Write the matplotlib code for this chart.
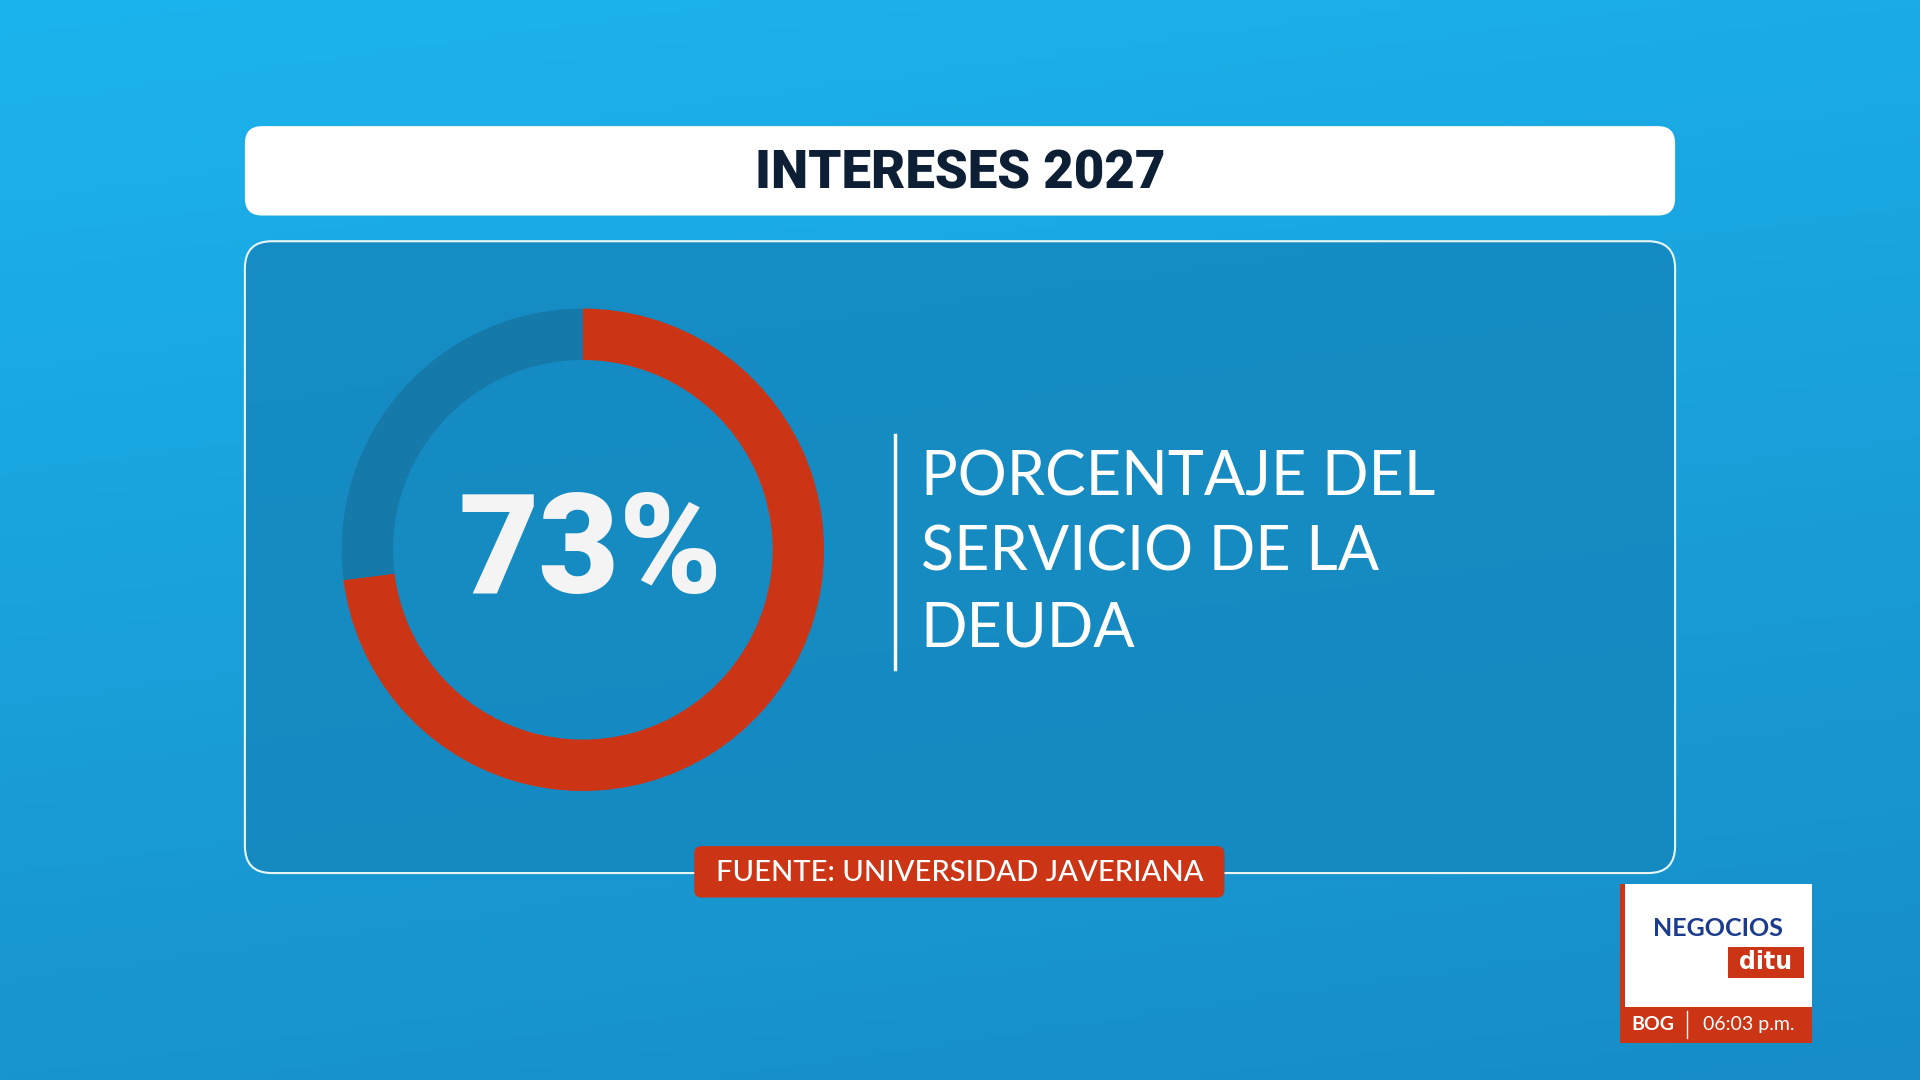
import matplotlib
matplotlib.use("Agg")
import matplotlib.pyplot as plt
import numpy as np
from matplotlib.patches import FancyBboxPatch, Rectangle

title = "INTERESES 2027"
share = [73, 27]
share_colors = ["#cc3416", "#1579aa"]
pct_label = "73%"
desc_lines = ["PORCENTAJE DEL", "SERVICIO DE LA", "DEUDA"]
source = "FUENTE: UNIVERSIDAD JAVERIANA"

W, H = 1568, 882
fig = plt.figure(figsize=(19.2, 10.8), dpi=100)
bg = fig.add_axes([0, 0, 1, 1])
bg.set_xlim(0, W); bg.set_ylim(H, 0); bg.axis("off")
y = np.linspace(0, 1, 200)[:, None]
x = np.linspace(0, 1, 200)[None, :]
top = np.array([0x1c, 0xb4, 0xee]) / 255
bot = np.array([0x17, 0x8c, 0xc6]) / 255
t = np.clip(y * 0.8 + 0.2 * x, 0, 1)
img = top[None, None, :] * (1 - t[..., None]) + bot[None, None, :] * t[..., None]
bg.imshow(img, extent=[0, W, H, 0], aspect="auto", zorder=0)

bg.add_patch(FancyBboxPatch((200, 197), 1168, 516, boxstyle="round,pad=0,rounding_size=22",
                            fc="#1589c0", ec="none", alpha=0.9, zorder=1))
bg.add_patch(FancyBboxPatch((200, 197), 1168, 516, boxstyle="round,pad=0,rounding_size=22",
                            fc="none", ec="#e8f6fc", lw=1.5, zorder=2))
bg.add_patch(FancyBboxPatch((200, 103), 1168, 73, boxstyle="round,pad=0,rounding_size=14",
                            fc="white", ec="none", zorder=3))
bg.text(784, 142, title, ha="center", va="center", fontsize=38, fontweight="black",
        color="#0d1f35", family="Roboto", zorder=4)

bg.plot([731, 731], [355, 546], color="white", lw=2.5, zorder=4)
for i, line in enumerate(desc_lines):
    bg.text(752, 390 + 62 * i, line, ha="left", va="center", fontsize=44,
            color="white", family="Lato", fontweight="normal", zorder=4)

bg.add_patch(FancyBboxPatch((567, 691), 433, 42, boxstyle="round,pad=0,rounding_size=6",
                            fc="#cc3416", ec="none", zorder=4))
bg.text(784, 713, source, ha="center", va="center", fontsize=21, color="white",
        family="Lato", fontweight="medium", zorder=5)

bg.add_patch(Rectangle((1323, 722), 157, 130, fc="white", ec="none", zorder=4))
bg.add_patch(Rectangle((1323, 722), 4, 130, fc="#cc3416", ec="none", zorder=5))
bg.add_patch(Rectangle((1323, 822), 157, 30, fc="#cc3416", ec="none", zorder=5))
bg.text(1403, 758, "NEGOCIOS", ha="center", va="center", fontsize=18, color="#1b3b8c",
        family="Lato", fontweight="bold", zorder=6)
bg.add_patch(Rectangle((1411, 773), 62, 26, fc="#cc3416", ec="none", zorder=5))
bg.text(1442, 786, "ditu", ha="center", va="center", fontsize=17, color="white",
        fontweight="bold", family="DejaVu Sans", zorder=6)
bg.text(1350, 837, "BOG", ha="center", va="center", fontsize=14, color="white",
        fontweight="bold", family="Lato", zorder=6)
bg.plot([1378, 1378], [826, 848], color="white", lw=1, zorder=6)
bg.text(1428, 837, "06:03 p.m.", ha="center", va="center", fontsize=14, color="white",
        family="Lato", zorder=6)

cx, cy, r = 476, 449, 197
ax = fig.add_axes([(cx - r) / W, 1 - (cy + r) / H, 2 * r / W, 2 * r / H])
ax.pie(share, colors=share_colors, startangle=90, counterclock=False,
       wedgeprops=dict(width=42 / 197, edgecolor="none"))
ax.set_aspect("auto")
ax.set_xlim(-1, 1); ax.set_ylim(-1, 1)
ax.text(0.03, -0.02, pct_label, ha="center", va="center", fontsize=100, fontweight="black",
        color="#f4f4f4", family="Roboto")

fig.savefig("out.png", dpi=100)
